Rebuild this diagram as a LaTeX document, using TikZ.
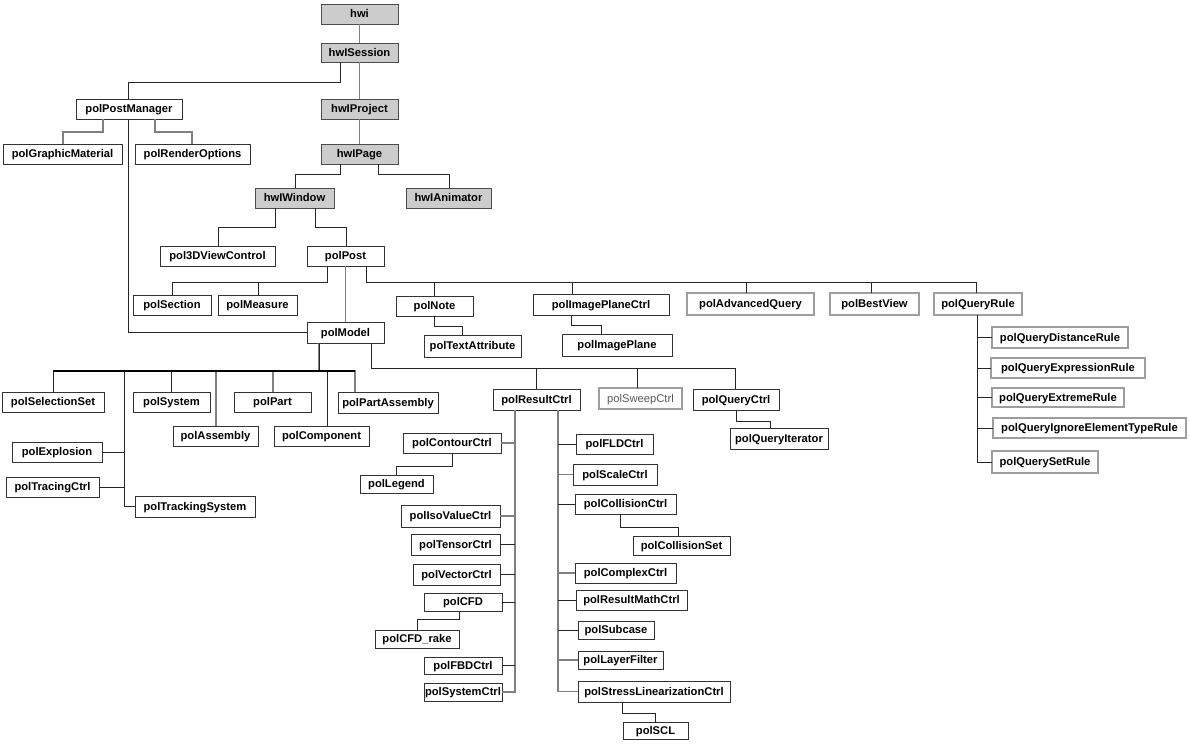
\documentclass[tikz,border=0pt]{standalone}
\usepackage{fontspec}
\setmainfont{Liberation Sans}
\newcommand\bxnode[7]{\node[#7, minimum width={#4-#2}, minimum height={#5-#3}] (#1) at ({(#2+#4)/2},{(#3+#5)/2}) {#6};}
\newcommand\elb[6][ln]{\draw[#1] ([xshift=#3pt]#2.south) -- ++(0,#4) -| ([xshift=#6pt]#5.north);}
\begin{document}
\begin{tikzpicture}[x=1pt,y=-1pt,
  nb/.style={draw=black!80, line width=0.9pt, fill=white, inner sep=0pt, outer sep=0pt, text height=8.6pt, text depth=1pt, font=\fontsize{11.2}{13}\selectfont\bfseries},
  hw/.style={nb, fill=black!20, draw=black!70},
  gb/.style={nb, draw=black!38, line width=2pt},
  sw/.style={gb, line width=1.5pt, font=\fontsize{11.2}{13}\selectfont, text=black!65},
  ln/.style={draw=black!85, line width=0.9pt},
  gl/.style={draw=black!50, line width=1.4pt},
  bus/.style={draw=black, line width=1.6pt}]
\fill[white] (0,0) rectangle (1190,748);
\useasboundingbox (0,0) rectangle (1190,748);
% boxes
\bxnode{hwi}{321}{4}{398}{24}{hwi}{hw}
\bxnode{hwISession}{321}{43}{398}{62}{hwISession}{hw}
\bxnode{polPostManager}{76}{99}{182}{119}{polPostManager}{nb}
\bxnode{hwIProject}{321}{99}{398}{119}{hwIProject}{hw}
\bxnode{polGraphicMaterial}{3}{144}{122}{164}{polGraphicMaterial}{nb}
\bxnode{polRenderOptions}{135}{144}{250}{164}{polRenderOptions}{nb}
\bxnode{hwIPage}{321}{144}{398}{164}{hwIPage}{hw}
\bxnode{hwIWindow}{255}{188}{334}{208}{hwIWindow}{hw}
\bxnode{hwIAnimator}{406}{188}{491}{208}{hwIAnimator}{hw}
\bxnode{pol3DViewControl}{160}{246}{275}{266}{pol3DViewControl}{nb}
\bxnode{polPost}{307}{246}{384}{266}{polPost}{nb}
\bxnode{polSection}{133}{295}{211}{315}{polSection}{nb}
\bxnode{polMeasure}{218}{295}{297}{315}{polMeasure}{nb}
\bxnode{polNote}{396}{296}{473}{316}{polNote}{nb}
\bxnode{polImagePlaneCtrl}{533}{294}{669}{315}{polImagePlaneCtrl}{nb}
\bxnode{polAdvancedQuery}{687}{293}{814}{315}{polAdvancedQuery}{gb}
\bxnode{polBestView}{830}{293}{919}{315}{polBestView}{gb}
\bxnode{polQueryRule}{934}{293}{1022}{315}{polQueryRule}{gb}
\bxnode{polTextAttribute}{424}{335}{521}{357}{polTextAttribute}{nb}
\bxnode{polImagePlane}{562}{334}{672}{356}{polImagePlane}{nb}
\bxnode{polModel}{307}{322}{384}{343}{polModel}{nb}
\bxnode{polSelectionSet}{2}{392}{104}{412}{polSelectionSet}{nb}
\bxnode{polSystem}{133}{392}{210}{412}{polSystem}{nb}
\bxnode{polAssembly}{173}{426}{258}{446}{polAssembly}{nb}
\bxnode{polPart}{234}{392}{311}{412}{polPart}{nb}
\bxnode{polComponent}{274}{426}{369}{446}{polComponent}{nb}
\bxnode{polPartAssembly}{338}{392}{438}{413}{polPartAssembly}{nb}
\bxnode{polExplosion}{12}{442}{102}{462}{polExplosion}{nb}
\bxnode{polTracingCtrl}{6}{477}{99}{497}{polTracingCtrl}{nb}
\bxnode{polTrackingSystem}{135}{496}{255}{517}{polTrackingSystem}{nb}
\bxnode{polResultCtrl}{493}{389}{580}{410}{polResultCtrl}{nb}
\bxnode{polSweepCtrl}{599}{388}{682}{409}{polSweepCtrl}{sw}
\bxnode{polQueryCtrl}{693}{389}{779}{410}{polQueryCtrl}{nb}
\bxnode{polQueryIterator}{730}{428}{828}{449}{polQueryIterator}{nb}
\bxnode{polContourCtrl}{403}{433}{501}{453}{polContourCtrl}{nb}
\bxnode{polLegend}{360}{475}{433}{493}{polLegend}{nb}
\bxnode{polIsoValueCtrl}{401}{505}{500}{527}{polIsoValueCtrl}{nb}
\bxnode{polTensorCtrl}{411}{534}{500}{555}{polTensorCtrl}{nb}
\bxnode{polVectorCtrl}{413}{564}{500}{585}{polVectorCtrl}{nb}
\bxnode{polCFD}{424}{593}{502}{611}{polCFD}{nb}
\bxnode{polCFDrake}{375}{630}{459}{648}{polCFD\_rake}{nb}
\bxnode{polFBDCtrl}{424}{657}{502}{674}{polFBDCtrl}{nb}
\bxnode{polSystemCtrl}{424}{683}{502}{701}{polSystemCtrl}{nb}
\bxnode{polFLDCtrl}{576}{434}{653}{454}{polFLDCtrl}{nb}
\bxnode{polScaleCtrl}{573}{464}{657}{485}{polScaleCtrl}{nb}
\bxnode{polCollisionCtrl}{575}{494}{676}{514}{polCollisionCtrl}{nb}
\bxnode{polCollisionSet}{633}{536}{730}{555}{polCollisionSet}{nb}
\bxnode{polComplexCtrl}{575}{563}{676}{583}{polComplexCtrl}{nb}
\bxnode{polResultMathCtrl}{576}{590}{687}{610}{polResultMathCtrl}{nb}
\bxnode{polSubcase}{578}{621}{654}{639}{polSubcase}{nb}
\bxnode{polLayerFilter}{578}{651}{663}{669}{polLayerFilter}{nb}
\bxnode{polStressLin}{578}{681}{730}{702}{polStressLinearizationCtrl}{nb}
\bxnode{polSCL}{623}{722}{688}{739}{polSCL}{nb}
\bxnode{polQueryDistanceRule}{992}{327}{1128}{348}{polQueryDistanceRule}{gb}
\bxnode{polQueryExpressionRule}{991}{358}{1145}{378}{polQueryExpressionRule}{gb}
\bxnode{polQueryExtremeRule}{992}{388}{1124}{407}{polQueryExtremeRule}{gb}
\bxnode{polQueryIgnore}{993}{418}{1186}{438}{polQueryIgnoreElementTypeRule}{gb}
\bxnode{polQuerySetRule}{992}{451}{1098}{473}{polQuerySetRule}{gb}
% connectors
\draw[gl] (hwi.south) -- (hwISession.north);
\draw[gl] (hwISession.south) -- (hwIProject.north);
\draw[gl] (hwIProject.south) -- (hwIPage.north);
\elb{hwISession}{-19.5}{20}{polPostManager}{-1}
\elb[gl]{polPostManager}{-26}{13}{polGraphicMaterial}{0.5}
\elb[gl]{polPostManager}{26}{13}{polRenderOptions}{-0.5}
\draw[ln] ([xshift=-1pt]polPostManager.south) |- (polModel.west);
\elb{hwIPage}{-19.5}{10}{hwIWindow}{0.5}
\elb{hwIPage}{18.5}{10}{hwIAnimator}{0.5}
\elb{hwIWindow}{-19.5}{19}{pol3DViewControl}{0.5}
\elb{hwIWindow}{20.5}{19}{polPost}{0.5}
\elb{polPost}{-18.5}{16}{polSection}{0}
\elb{polPost}{-18.5}{16}{polMeasure}{0.5}
\draw[gl] (polPost.south) -- (polModel.north);
\elb{polPost}{20.5}{16}{polNote}{-0.5}
\elb{polPost}{20.5}{16}{polImagePlaneCtrl}{-29}
\elb{polPost}{20.5}{16}{polAdvancedQuery}{-4.5}
\elb{polPost}{20.5}{16}{polBestView}{-3.5}
\elb{polPost}{20.5}{16}{polQueryRule}{-2}
\elb{polNote}{-0.5}{10}{polTextAttribute}{-10.5}
\elb{polImagePlaneCtrl}{-30}{10}{polImagePlane}{-16}
\draw[ln] ([xshift=-1pt]polQueryRule.south) |- (polQueryDistanceRule.west);
\draw[ln] ([xshift=-1pt]polQueryRule.south) |- (polQueryExpressionRule.west);
\draw[ln] ([xshift=-1pt]polQueryRule.south) |- (polQueryExtremeRule.west);
\draw[ln] ([xshift=-1pt]polQueryRule.south) |- (polQueryIgnore.west);
\draw[ln] ([xshift=-1pt]polQueryRule.south) |- (polQuerySetRule.west);
% polModel left bus
\draw[ln] ([xshift=-26.5pt]polModel.south) -- ++(0,28) -| (polSelectionSet.north);
\draw[ln] ([xshift=-26.5pt]polModel.south) -- ++(0,28) -| ([xshift=-0.5pt]polSystem.north);
\draw[gl] ([xshift=-26.5pt]polModel.south) -- ++(0,28) -| ([xshift=0.5pt]polAssembly.north);
\draw[gl] ([xshift=-26.5pt]polModel.south) -- ++(0,28) -| ([xshift=0.5pt]polPart.north);
\draw[ln] ([xshift=-26.5pt]polModel.south) -- ++(0,28) -| ([xshift=5.5pt]polComponent.north);
\draw[gl] ([xshift=-26.5pt]polModel.south) -- ++(0,28) -| ([xshift=-33pt]polPartAssembly.north);
\coordinate (tv) at ([xshift=-11pt]polTrackingSystem.west);
\draw[ln] ([xshift=-26.5pt]polModel.south) -- ++(0,28) -| (tv) -- (polTrackingSystem.west);
\draw[ln] (polExplosion.east) -- (polExplosion.east -| tv);
\draw[ln] (polTracingCtrl.east) -- (polTracingCtrl.east -| tv);
\draw[bus] ([yshift=21pt]polSelectionSet.north) -- ([xshift=-33pt,yshift=21pt]polPartAssembly.north);
% polModel right bus
\elb{polModel}{25.5}{25}{polResultCtrl}{-0.5}
\elb{polModel}{25.5}{25}{polSweepCtrl}{-3.5}
\elb{polModel}{25.5}{25}{polQueryCtrl}{-1}
\elb{polQueryCtrl}{0}{11}{polQueryIterator}{-9}
% polResultCtrl
\coordinate (lv) at ([xshift=-21.5pt]polResultCtrl.south);
\coordinate (rv) at ([xshift=21.5pt]polResultCtrl.south);
\draw[gl] (lv) |- (polSystemCtrl.east);
\draw[gl] (rv) |- (polStressLin.west);
\draw[gl] (polContourCtrl.east) -- (polContourCtrl.east -| lv);
\draw[gl] (polIsoValueCtrl.east) -- (polIsoValueCtrl.east -| lv);
\draw[ln] (polTensorCtrl.east) -- (polTensorCtrl.east -| lv);
\draw[ln] (polVectorCtrl.east) -- (polVectorCtrl.east -| lv);
\draw[ln] (polCFD.east) -- (polCFD.east -| lv);
\draw[ln] (polFBDCtrl.east) -- (polFBDCtrl.east -| lv);
\draw[ln] (polFLDCtrl.west) -- (polFLDCtrl.west -| rv);
\draw[gl] (polScaleCtrl.west) -- (polScaleCtrl.west -| rv);
\draw[ln] (polCollisionCtrl.west) -- (polCollisionCtrl.west -| rv);
\draw[gl] (polComplexCtrl.west) -- (polComplexCtrl.west -| rv);
\draw[ln] (polResultMathCtrl.west) -- (polResultMathCtrl.west -| rv);
\draw[ln] (polSubcase.west) -- (polSubcase.west -| rv);
\draw[gl] (polLayerFilter.west) -- (polLayerFilter.west -| rv);
\elb{polContourCtrl}{0}{13}{polLegend}{-0.5}
\elb{polCFD}{-4}{8}{polCFDrake}{0}
\elb{polCollisionCtrl}{-5.5}{13}{polCollisionSet}{-3.5}
\elb{polStressLin}{-32}{11}{polSCL}{-0.5}
\end{tikzpicture}
\end{document}
